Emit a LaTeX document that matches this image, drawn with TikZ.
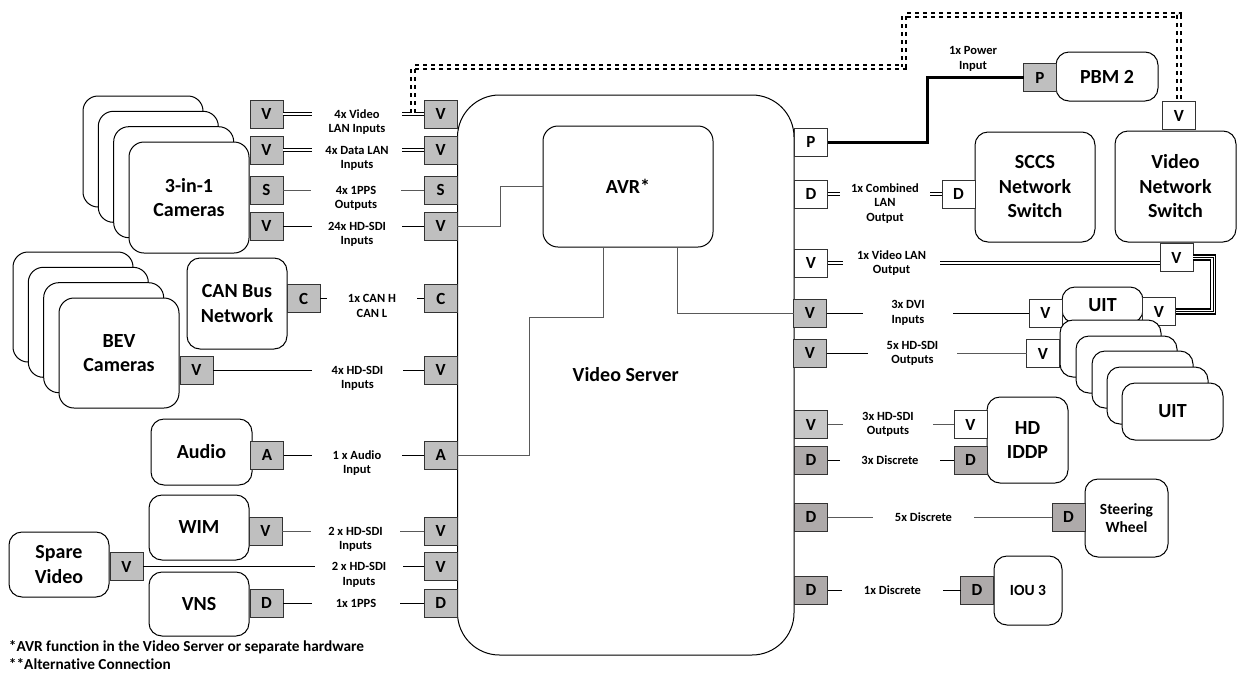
\documentclass[tikz,border=0pt]{standalone}
\usepackage{fontspec}
\setmainfont{Carlito}[Ligatures={NoCommon}]
\usetikzlibrary{calc}
\definecolor{pg}{HTML}{BFBFBF}
\definecolor{pd}{HTML}{AEAAAA}
\definecolor{pl}{HTML}{C8C8C8}
\definecolor{ln}{HTML}{595959}
\newcommand\LS{\rule{0pt}{10pt}}
\begin{document}
\begin{tikzpicture}[x=1pt,y=-1pt,
 box/.style={draw, line width=1, rounded corners=13, fill=white, align=center, inner sep=0, outer sep=0, font=\fontsize{20}{24.5}\selectfont\bfseries},
 sbox/.style={box, font=\fontsize{15.5}{17.5}\selectfont\bfseries},
 port/.style={draw=black!80, line width=0.9, fill=pg, minimum width=33, minimum height=28, inner sep=0, outer sep=0, font=\fontsize{17}{19}\selectfont\bfseries},
 wport/.style={port, fill=white},
 dport/.style={port, fill=pd},
 lab/.style={inner sep=0, outer sep=0, align=center, font=\fontsize{12.5}{14.7}\selectfont\bfseries},
 labn/.style={lab, anchor=north},
 fnote/.style={lab, anchor=west, font=\fontsize{15.3}{17}\selectfont\bfseries},
 conn/.style={line width=0.9, black},
 gconn/.style={line width=0.9, ln},
 dlan/.style={double, line width=0.8, double distance=1.6},
 dlanm/.style={double, line width=1.1, double distance=1.5},
 dlanb/.style={double, line width=1.5, double distance=1.4},
 altc/.style={double, line width=1.8, double distance=1.5, dash pattern=on 4pt off 4pt},
 tripl/.style={double, line width=1.5, double distance=3.5},
]
\useasboundingbox (0,0) rectangle (1243,673);

% server and AVR
\node[box, rounded corners=42, minimum width=336.5, minimum height=560] (srv) at (625.75,375) {Video Server};
\node[box, rounded corners=15, minimum width=170, minimum height=121] (avr) at (628,186.5) {AVR*};

% 3-in-1 cameras
\node[box, rounded corners=15, minimum width=120, minimum height=111] (cam4) at (143,151.5) {};
\node[box, rounded corners=15, minimum width=120, minimum height=111] (cam3) at (158.3,166.8) {};
\node[box, rounded corners=15, minimum width=120, minimum height=111] (cam2) at (173.7,182.2) {};
\node[box, rounded corners=15, minimum width=120, minimum height=111] (cam1) at (189,197.5) {3-in-1\\Cameras};
\node[port] (cv1) at (266.5,114) {V};
\node[port] (cv2) at (266.5,150) {V};
\node[port] (cs)  at (266.5,190) {S};
\node[port] (cv3) at (266.5,226) {V};
\node[port] (sv1) at (440.75,114) {V};
\node[port] (sv2) at (440.75,150) {V};
\node[port] (ss)  at (440.75,190) {S};
\node[port] (sv3) at (440.75,226) {V};
\node[labn, minimum width=90] (l1) at (357,108) {\LS 4x Video\\LAN Inputs};
\node[labn, minimum width=90] (l2) at (357,144) {\LS 4x Data LAN\\Inputs};
\node[labn, minimum width=90] (l3) at (356,184) {\LS 4x 1PPS\\Outputs};
\node[labn, minimum width=90] (l4) at (357,220) {\LS 24x HD-SDI\\Inputs};

% BEV cameras
\node[box, rounded corners=15, minimum width=120, minimum height=110] (bev4) at (73,307) {};
\node[box, rounded corners=15, minimum width=120, minimum height=110] (bev3) at (88.3,322.3) {};
\node[box, rounded corners=15, minimum width=120, minimum height=110] (bev2) at (103.7,337.7) {};
\node[box, rounded corners=15, minimum width=120, minimum height=110] (bev1) at (119,353) {BEV\\Cameras};
\node[port] (bv) at (196.5,370) {V};
\node[port] (sbv) at (440.75,370) {V};
\node[labn, minimum width=91] (lb) at (357.5,364) {\LS 4x HD-SDI\\Inputs};

% CAN bus
\node[box, minimum width=100, minimum height=91] (can) at (237,303.5) {CAN Bus\\Network};
\node[port] (cc) at (303.5,298.5) {C};
\node[port] (sc) at (440.75,298.5) {C};
\node[labn, minimum width=90] (lc) at (372,292.5) {\LS 1x CAN H\\CAN L};

% Audio
\node[box, minimum width=101, minimum height=66] (aud) at (201.5,452) {Audio};
\node[port] (ca) at (267,455) {A};
\node[port] (sa) at (440.75,455) {A};
\node[labn, minimum width=90] (la) at (357,449) {\LS 1 x Audio\\Input};

% WIM
\node[box, minimum width=100, minimum height=65] (wim) at (199,527.5) {WIM};
\node[port] (cw) at (265.5,531) {V};
\node[port] (sw) at (440.75,531) {V};
\node[labn, minimum width=89] (lw) at (355.5,525) {\LS 2 x HD-SDI\\Inputs};

% Spare video
\node[box, minimum width=100, minimum height=65] (spv) at (59,564.5) {Spare\\Video};
\node[port] (csp) at (126.5,566.5) {V};
\node[port] (ssp) at (440.75,566.5) {V};
\node[labn, minimum width=88] (lsp) at (359,560.5) {\LS 2 x HD-SDI\\Inputs};

% VNS
\node[box, minimum width=100, minimum height=64] (vns) at (199,604) {VNS};
\node[port] (cvn) at (266.5,603) {D};
\node[port] (svn) at (440.75,603) {D};
\node[labn, minimum width=88] (lvn) at (356,597) {\LS 1x 1PPS};

% footnotes
\node[fnote] (fn1) at (9,647) {*AVR function in the Video Server or separate hardware};
\node[fnote] (fn2) at (9,664) {**Alternative Connection};

% right side server ports
\node[wport] (sp) at (811,142) {P};
\node[wport] (sd) at (811,194) {D};
\node[wport] (svl) at (811,263) {V};
\node[port] (sdvi) at (810,313) {V};
\node[port] (shd5) at (810,353) {V};
\node[port, fill=pl] (shd3) at (811,424.5) {V};
\node[dport] (sd3) at (811,460) {D};
\node[dport] (sd5) at (811,517) {D};
\node[dport] (sd1) at (811,590) {D};

% PBM 2
\node[box, minimum width=102, minimum height=49] (pbm) at (1107,76.5) {PBM 2};
\node[port] (pp) at (1040,77.5) {P};
\node[lab, anchor=south] (lpw) at (973,71) {1x Power\\Input};
\coordinate (pw) at (927,0);

% SCCS
\node[box, minimum width=120, minimum height=110] (sccs) at (1035,187) {SCCS\\Network\\Switch};
\node[wport] (scd) at (958.5,194) {D};
\node[labn, minimum width=90] (lcb) at (885,182) {\LS 1x Combined\\LAN\\Output};

% Video network switch
\node[box, minimum width=121, minimum height=111] (vsw) at (1175.5,186.5) {Video\\Network\\Switch};
\node[wport] (vtop) at (1179,115.5) {V};
\node[wport] (vbot) at (1176.5,257.5) {V};
\node[lab, minimum width=97] (lvl) at (891.5,263) {1x Video LAN\\Output};

% UIT
\node[box, minimum width=81, minimum height=36] (uit) at (1102.5,305) {UIT};
\node[wport] (uitl) at (1045.5,313) {V};
\node[wport] (uitr) at (1159,311.5) {V};
\node[box, minimum width=101, minimum height=57] (u1) at (1110.5,348.5) {};
\node[box, minimum width=101, minimum height=57] (u2) at (1126.5,364.5) {};
\node[box, minimum width=101, minimum height=57] (u3) at (1142.5,379.5) {};
\node[box, minimum width=101, minimum height=57] (u4) at (1157.5,395.5) {};
\node[box, minimum width=101, minimum height=57] (u5) at (1172.5,411.5) {UIT};
\node[wport] (u1p) at (1043,353.5) {V};
\node[lab, minimum width=90] (ldvi) at (908,313) {3x DVI\\Inputs};
\node[lab, minimum width=89] (lh5) at (912.5,353.5) {5x HD-SDI\\Outputs};

% HD IDDP
\node[box, minimum width=81, minimum height=86] (iddp) at (1027.5,440) {HD\\IDDP};
\node[wport] (ipv) at (970.5,424.5) {V};
\node[dport] (ipd) at (970.5,460) {D};
\node[lab, minimum width=90] (lh3) at (888,424.5) {3x HD-SDI\\Outputs};
\node[lab, minimum width=100] (ld3) at (890,460) {3x Discrete};

% Steering wheel
\node[sbox, minimum width=83, minimum height=78] (stw) at (1126.5,518) {Steering\\Wheel};
\node[dport] (swd) at (1068.5,517) {D};
\node[lab, minimum width=101] (ld5) at (923.5,517) {5x Discrete};

% IOU 3
\node[sbox, minimum width=68, minimum height=69] (iou) at (1028,590.5) {IOU 3};
\node[dport] (iod) at (977,590) {D};
\node[lab, minimum width=101] (ld1) at (892.5,590) {1x Discrete};

% ---- connectors: left side
\draw[dlan] (cv1.east) -- (cv1.east -| l1.west);
\draw[dlan] (l1.east |- sv1.west) -- (sv1.west);
\draw[dlanb] (cv2.east) -- (cv2.east -| l2.west);
\draw[dlanb] (l2.east |- sv2.west) -- (sv2.west);
\draw[gconn] (cs.east) -- (cs.east -| l3.west);
\draw[gconn] (l3.east |- ss.west) -- (ss.west);
\draw[conn] (cv3.east) -- (cv3.east -| l4.west);
\draw[conn] (l4.east |- sv3.west) -- (sv3.west);
\draw[conn] (cc.east) -- (cc.east -| lc.west);
\draw[conn] (lc.east |- sc.west) -- (sc.west);
\draw[conn] (bv.east) -- (bv.east -| lb.west);
\draw[conn] (lb.east |- sbv.west) -- (sbv.west);
\draw[conn] (ca.east) -- (ca.east -| la.west);
\draw[conn] (la.east |- sa.west) -- (sa.west);
\draw[gconn] (cw.east) -- (cw.east -| lw.west);
\draw[gconn] (lw.east |- sw.west) -- (sw.west);
\draw[conn] (csp.east) -- (csp.east -| lsp.west);
\draw[conn] (lsp.east |- ssp.west) -- (ssp.west);
\draw[conn] (cvn.east) -- (cvn.east -| lvn.west);
\draw[conn] (lvn.east |- svn.west) -- (svn.west);

% AVR internal
\coordinate (a0) at (500,0);
\coordinate (a1) at (603,317);
\coordinate (a1b) at (529,317);
\coordinate (a2) at (677,313);
\draw[gconn] (avr.west) -| (a0 |- sv3.east) -- (sv3.east);
\draw[gconn] (a1 |- avr.south) -- (a1) -- (a1b) |- (sa.east);
\draw[gconn] (a2 |- avr.south) |- (sdvi.west);

% alternative connection
\coordinate (dj) at (413,113);
\coordinate (d1) at (904,67);
\coordinate (d2) at (0,15);
\draw[altc] (dj) |- (d1) |- (vtop.north |- d2) -- (vtop.north);

% right side
\draw[line width=3] (sp.east) -| (pw |- pp.west) -- (pp.west);
\draw[dlanb] (sd.east) -- (sd.east -| lcb.west);
\draw[dlanb] (lcb.east |- scd.west) -- (scd.west);
\draw[dlanm] (svl.east) -- (svl.east -| lvl.west);
\draw[dlanm] (lvl.east |- svl.east) -- (svl.east -| vbot.west);
\draw[tripl] (vbot.east) -- ++(20,0) |- (uitr.east);
\draw[line width=0.9] (vbot.east) -- ++(20,0) |- (uitr.east);
\draw[conn] (sdvi.east) -- (sdvi.east -| ldvi.west);
\draw[conn] (ldvi.east |- uitl.west) -- (uitl.west);
\draw[conn] (shd5.east) -- (shd5.east -| lh5.west);
\draw[gconn] (lh5.east |- u1p.west) -- (u1p.west);
\draw[gconn] (shd3.east) -- (shd3.east -| lh3.west);
\draw[gconn] (lh3.east |- ipv.west) -- (ipv.west);
\draw[conn] (sd3.east) -- (sd3.east -| ld3.west);
\draw[conn] (ld3.east |- ipd.west) -- (ipd.west);
\draw[gconn] (sd5.east) -- (sd5.east -| ld5.west);
\draw[gconn] (ld5.east |- swd.west) -- (swd.west);
\draw[conn] (sd1.east) -- (sd1.east -| ld1.west);
\draw[conn] (ld1.east |- iod.west) -- (iod.west);
\end{tikzpicture}
\end{document}
